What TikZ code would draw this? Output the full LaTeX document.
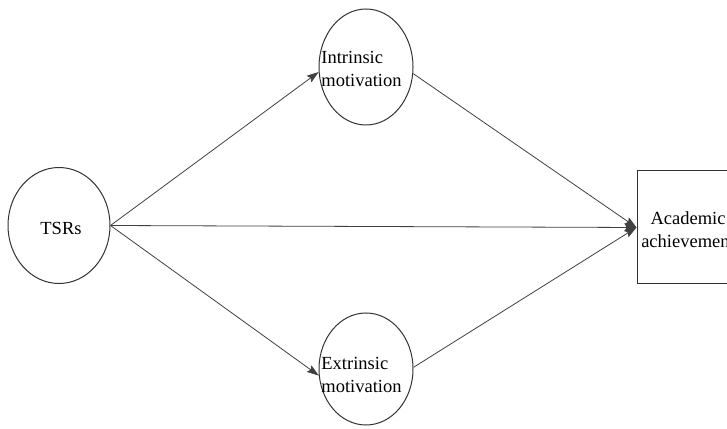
\documentclass[tikz,border=0pt]{standalone}
\usepackage{fontspec}
\setmainfont{Liberation Serif}
\usetikzlibrary{shapes.geometric,arrows.meta}
\begin{document}
\begin{tikzpicture}[x=1pt,y=1pt,
  latent/.style={draw=black!80, line width=1pt, ellipse, inner sep=0pt, minimum width=94pt, minimum height=116pt},
  lbl/.style={inner sep=0pt, align=left, font=\fontsize{18.5}{23}\selectfont},
  obs/.style={draw=black!80, line width=1pt, rectangle, inner sep=0pt, minimum width=110pt, minimum height=113pt},
  conn/.style={draw=black!75, line width=0.8pt, -{Stealth[length=12pt,width=8pt,inset=2pt]}}]
\useasboundingbox (0,0) rectangle (727,428);
\node[latent, minimum width=102pt] (tsr) at (59,202.5) {};
\node[lbl] at (61,200) {TSRs};
\node[latent] (intr) at (366,361) {};
\node[lbl] at (361.5,359.5) {Intrinsic\\motivation};
\node[latent, minimum height=112pt] (ext) at (366,59) {};
\node[lbl] at (361.5,53) {Extrinsic\\motivation};
\node[obs] (acad) at (692,200.5) {};
\node[lbl, align=center] at (688,198.5) {Academic\\achievement};
\draw[conn] (tsr.east) -- (intr.186);
\draw[conn] (tsr.east) -- (ext.188);
\draw[conn] (tsr.east) -- (acad.west);
\draw[conn] (intr.352) -- (acad.west);
\draw[conn] (ext.2) -- (acad.west);
\end{tikzpicture}
\end{document}
